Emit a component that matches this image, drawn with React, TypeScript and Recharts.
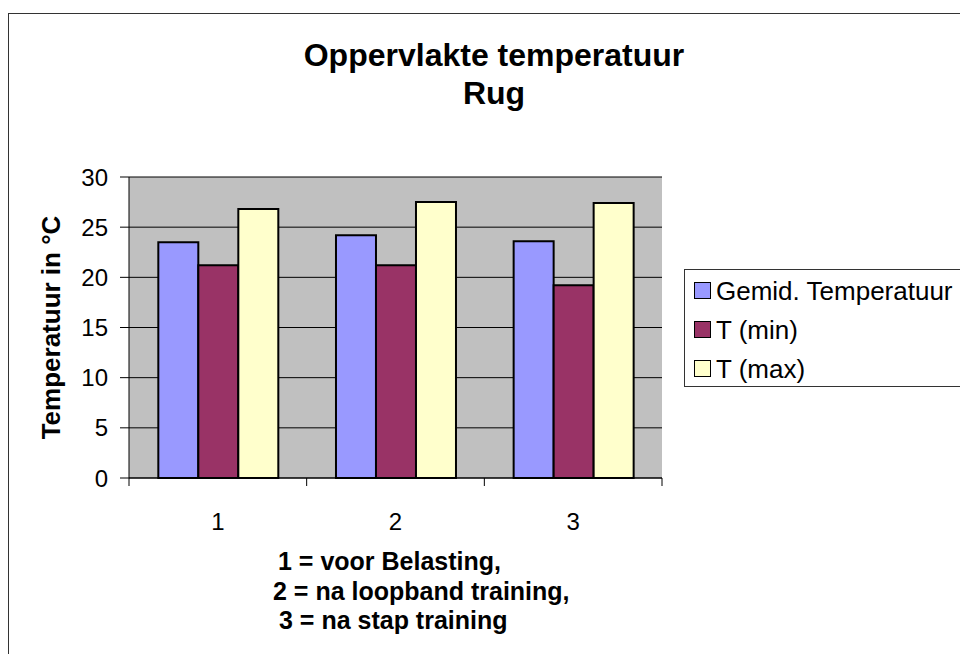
import { Bar, BarChart, CartesianGrid, Legend, XAxis, YAxis } from "recharts";

const categories = ["1", "2", "3"];
const seriesNames = ["Gemid. Temperatuur", "T (min)", "T (max)"];
const gemidTemp = [23.5, 24.2, 23.6];
const tMin = [21.2, 21.2, 19.2];
const tMax = [26.8, 27.5, 27.4];
const yTicks = [0, 5, 10, 15, 20, 25, 30];
const titleLines = ["Oppervlakte temperatuur", "Rug"];
const captionLines = [
  "1 = voor Belasting,",
  "2 = na loopband training,",
  "3 = na stap training"
];

const data = categories.map((cat, i) => ({
  cat,
  gemid: gemidTemp[i],
  min: tMin[i],
  max: tMax[i]
}));

const FONT = '"Liberation Sans", Arial, sans-serif';
const TICK_SIZE = 8;
const TICK_MARGIN = 27;

// category labels in the middle, tick marks on the band edges (Excel style)
const CategoryTick = (props: any) => {
  const { x, y, payload, index, visibleTicksCount } = props;
  const half = payload.offset ?? 0;
  const y1 = y - TICK_MARGIN - TICK_SIZE;
  const y2 = y - TICK_MARGIN;
  return (
    <g>
      <line x1={x - half} x2={x - half} y1={y1} y2={y2} stroke="#000" />
      {index === visibleTicksCount - 1 && (
        <line x1={x + half} x2={x + half} y1={y1} y2={y2} stroke="#000" />
      )}
      <text x={x} y={y} dy="0.71em" textAnchor="middle" fontSize={24} fill="#000">
        {payload.value}
      </text>
    </g>
  );
};

const LegendBox = ({ payload }: any) => {
  // keep the series order, not alphabetical
  const items = [...(payload || [])].sort(
    (a: any, b: any) => seriesNames.indexOf(a.value) - seriesNames.indexOf(b.value)
  );
  return (
    <div
      style={{
        border: "1px solid #333",
        background: "#fff",
        height: 118,
        paddingTop: 1,
        boxSizing: "border-box",
        width: 300,
        fontFamily: FONT
      }}
    >
      {items.map((entry: any) => (
        <div
          key={entry.value}
          style={{ display: "flex", alignItems: "center", height: 39 }}
        >
          <span
            style={{
              width: 15,
              height: 15,
              marginLeft: 9,
              marginRight: 5,
              background: entry.color,
              border: "1.5px solid #000"
            }}
          />
          <span style={{ fontSize: 26, color: "#000", lineHeight: 1 }}>
            {entry.value}
          </span>
        </div>
      ))}
    </div>
  );
};

const captionIndent = [269, 264, 270];

export default function App() {
  return (
    <div style={{ paddingTop: 5 }}>
      <div
        style={{
          position: "relative",
          width: 951,
          height: 640,
          borderTop: "1px solid #333",
          borderLeft: "1px solid #333",
          overflow: "hidden",
          fontFamily: FONT,
          background: "#fff"
        }}
      >
        <BarChart
          width={951}
          height={640}
          data={data}
          margin={{ top: 163, right: 298, bottom: 116, left: 10 }}
          barCategoryGap="16.5%"
          barGap={0}
          style={{ fontFamily: FONT }}
        >
          <CartesianGrid
            vertical={false}
            fill="#C0C0C0"
            fillOpacity={1}
            stroke="#000"
          />
          <Bar dataKey="gemid" name={seriesNames[0]} fill="#9999FF" stroke="#000" strokeWidth={2} isAnimationActive={false} />
          <Bar dataKey="min" name={seriesNames[1]} fill="#993366" stroke="#000" strokeWidth={2} isAnimationActive={false} />
          <Bar dataKey="max" name={seriesNames[2]} fill="#FFFFCC" stroke="#000" strokeWidth={2} isAnimationActive={false} />
          <XAxis
            xAxisId="top"
            orientation="top"
            dataKey="cat"
            height={0}
            tick={false}
            tickLine={false}
            axisLine={{ stroke: "#808080" }}
          />
          <YAxis
            yAxisId="right"
            orientation="right"
            width={0}
            domain={[0, 30]}
            tick={false}
            tickLine={false}
            axisLine={{ stroke: "#808080" }}
          />
          <XAxis
            dataKey="cat"
            height={60}
            tickLine={false}
            tickSize={TICK_SIZE}
            tickMargin={TICK_MARGIN}
            axisLine={{ stroke: "#000" }}
            tick={<CategoryTick />}
          />
          <YAxis
            width={110}
            domain={[0, 30]}
            ticks={yTicks}
            interval={0}
            tickSize={9}
            tickMargin={12}
            axisLine={{ stroke: "#000" }}
            tickLine={{ stroke: "#000" }}
            tick={{ fontSize: 24, fill: "#000" }}
            label={{
              value: "Temperatuur in °C",
              angle: -90,
              position: "insideLeft",
              offset: 31.5,
              style: { textAnchor: "middle", fontWeight: "bold", fontSize: 26, fill: "#000" }
            }}
          />
          <Legend
            layout="vertical"
            align="center"
            verticalAlign="middle"
            itemSorter={null as any}
            content={<LegendBox />}
            wrapperStyle={{ left: 675, top: 255, width: 300 }}
          />
        </BarChart>
        <div
          style={{
            position: "absolute",
            left: 185,
            top: 22,
            width: 600,
            textAlign: "center",
            fontSize: 32,
            fontWeight: "bold",
            lineHeight: "38px",
            color: "#000"
          }}
        >
          {titleLines.map((t) => (
            <div key={t}>{t}</div>
          ))}
        </div>
        <div
          style={{
            position: "absolute",
            left: 0,
            top: 533,
            fontSize: 25,
            fontWeight: "bold",
            lineHeight: "29.5px",
            color: "#000",
            whiteSpace: "nowrap"
          }}
        >
          {captionLines.map((t, i) => (
            <div key={t} style={{ paddingLeft: captionIndent[i] }}>
              {t}
            </div>
          ))}
        </div>
      </div>
    </div>
  );
}
